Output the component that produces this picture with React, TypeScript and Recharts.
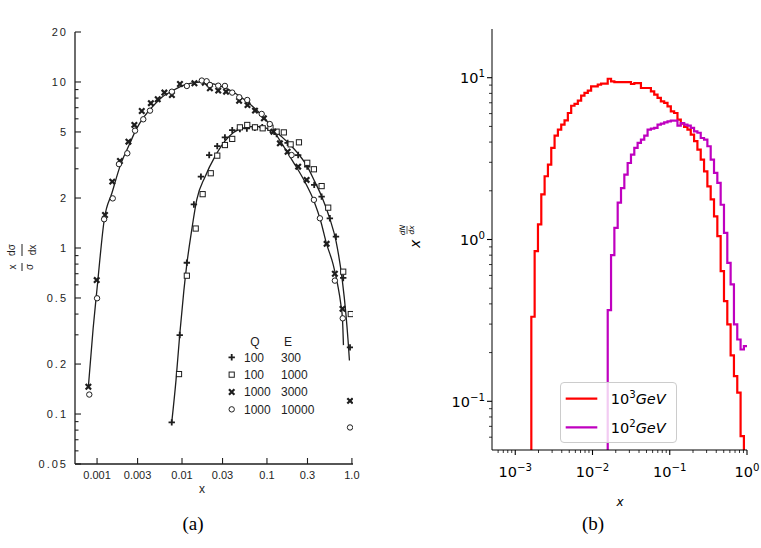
import React from 'react';
import { ComposedChart, Line, Scatter, XAxis, YAxis, Legend } from 'recharts';

/* ---------------- Panel (a) : scanned "coherent branching" plot ---------------- */
const aXTickValues = [0.001, 0.003, 0.01, 0.03, 0.1, 0.3, 1];
const aXTickLabels = ['0.001', '0.003', '0.01', '0.03', '0.1', '0.3', '1.0'];
const aYMajorValues = [0.05, 0.1, 0.2, 0.5, 1, 2, 5, 10, 20];
const aYMajorLabels = ['0.05', '0.1', '0.2', '0.5', '1', '2', '5', '10', '20'];
const aYMinorValues = [0.06, 0.07, 0.08, 0.09, 0.3, 0.4, 0.6, 0.7, 0.8, 0.9, 3, 4, 6, 7, 8, 9];
const aTitle = 'COHERENT BRANCHING';
const aXLabel = 'x';
const aLegendHeader = ['Q', 'E'];
const aLegendRows = [
  { kind: 'plus', q: '100', e: '300' },
  { kind: 'square', q: '100', e: '1000' },
  { kind: 'cross', q: '1000', e: '3000' },
  { kind: 'circle', q: '1000', e: '10000' },
];

// Q=100, E=300
const aPlusPts = [
  [0.00757, 0.089], [0.0094, 0.299], [0.0114, 0.815], [0.0138, 1.83], [0.0167, 2.69], [0.0209, 3.63],
  [0.026, 4.11], [0.032, 4.64], [0.039, 5.13], [0.048, 5.2], [0.058, 5.25], [0.072, 5.3], [0.088, 5.35],
  [0.11, 5.15], [0.13, 4.85], [0.175, 4.3], [0.233, 3.63], [0.298, 3.09], [0.36, 2.4], [0.44, 2.04],
  [0.55, 1.51], [0.649, 1.17], [0.79, 0.66], [0.95, 0.252],
];
// Q=100, E=1000
const aSquarePts = [
  [0.00922, 0.174], [0.0114, 0.681], [0.0145, 1.31], [0.0175, 2.11], [0.0218, 2.82], [0.026, 3.6],
  [0.032, 4.17], [0.039, 4.54], [0.048, 5.33], [0.0586, 5.51], [0.0723, 5.33], [0.089, 5.26], [0.11, 5.3],
  [0.13, 5.02], [0.158, 4.97], [0.19, 4.21], [0.238, 4.33], [0.298, 3.26], [0.357, 2.98], [0.44, 2.36],
  [0.526, 1.75], [0.79, 0.72], [0.97, 0.4],
];
// Q=1000, E=3000
const aCrossPts = [
  [0.00079, 0.146], [0.00099, 0.641], [0.00124, 1.58], [0.00151, 2.51], [0.00186, 3.34], [0.00234, 4.37],
  [0.00275, 5.51], [0.00336, 6.69], [0.0043, 7.45], [0.00518, 7.87], [0.0062, 8.63], [0.0076, 8.35],
  [0.00946, 9.72], [0.014, 9.82], [0.0185, 9.9], [0.0213, 9.17], [0.0267, 8.87], [0.033, 8.74], [0.047, 7.7],
  [0.059, 7.26], [0.0723, 6.72], [0.092, 6.04], [0.119, 5.02], [0.142, 4.27], [0.175, 3.8], [0.233, 3.09],
  [0.293, 2.57], [0.504, 1.06], [0.63, 0.7], [0.775, 0.43], [0.95, 0.12],
];
// Q=1000, E=10000
const aCirclePts = [
  [0.00081, 0.131], [0.001, 0.498], [0.00121, 1.49], [0.00153, 1.99], [0.00181, 3.2], [0.00227, 3.72],
  [0.0028, 5.09], [0.0035, 5.96], [0.0042, 6.72], [0.0076, 8.74], [0.0114, 9.46], [0.0171, 10.2],
  [0.0195, 10.1], [0.0213, 9.6], [0.0267, 9.5], [0.032, 9.47], [0.039, 8.63], [0.0472, 8.09], [0.0586, 7.79],
  [0.0867, 6.42], [0.108, 5.58], [0.195, 3.63], [0.357, 1.95], [0.42, 1.51], [0.63, 0.636], [0.78, 0.377],
  [0.95, 0.083],
];
// fitted curves
const aCurveQ1000 = [
  [0.00079, 0.146], [0.0009, 0.33], [0.001, 0.57], [0.00122, 1.5], [0.0015, 2.15], [0.0019, 3.2],
  [0.0024, 4.2], [0.0029, 5.2], [0.0036, 6.2], [0.0045, 7.1], [0.0058, 8.1], [0.0076, 8.8], [0.0098, 9.45],
  [0.0125, 9.8], [0.017, 10.0], [0.022, 9.8], [0.03, 9.35], [0.04, 8.7], [0.055, 7.8], [0.075, 6.8],
  [0.1, 5.8], [0.14, 4.5], [0.2, 3.35], [0.28, 2.5], [0.36, 1.9], [0.43, 1.45], [0.5, 1.07], [0.6, 0.8],
  [0.68, 0.6], [0.74, 0.46], [0.775, 0.37], [0.795, 0.26],
];
const aCurveQ100 = [
  [0.00757, 0.089], [0.0085, 0.16], [0.0094, 0.3], [0.0105, 0.55], [0.0114, 0.8], [0.013, 1.28],
  [0.0149, 1.95], [0.0187, 2.69], [0.0244, 3.55], [0.032, 4.4], [0.04, 4.95], [0.055, 5.3], [0.075, 5.4],
  [0.1, 5.25], [0.13, 4.95], [0.186, 4.2], [0.233, 3.7], [0.298, 3.1], [0.36, 2.55], [0.44, 2.05],
  [0.55, 1.5], [0.65, 1.1], [0.77, 0.64], [0.85, 0.4], [0.9, 0.28], [0.935, 0.21],
];

/* ---------------- Panel (b) : g spectrum histograms ---------------- */
const bTitleMath = 'g';
const bTitleText = ' spectrum';
const bXLabel = 'x';
const bXMajor = [0.001, 0.01, 0.1, 1];
const bXMajorExp = ['\u22123', '\u22122', '\u22121', '0'];
const bXMinor = [
  0.0006, 0.0007, 0.0008, 0.0009, 0.002, 0.003, 0.004, 0.005, 0.006, 0.007, 0.008, 0.009,
  0.02, 0.03, 0.04, 0.05, 0.06, 0.07, 0.08, 0.09, 0.2, 0.3, 0.4, 0.5, 0.6, 0.7, 0.8, 0.9,
];
const bYMajor = [0.1, 1, 10];
const bYMajorExp = ['\u22121', '0', '1'];
const bYMinor = [0.06, 0.07, 0.08, 0.09, 0.2, 0.3, 0.4, 0.5, 0.6, 0.7, 0.8, 0.9, 2, 3, 4, 5, 6, 7, 8, 9];
const bFloor = 0.05;

// histogram bin edges (log-spaced, read from the step positions)
const bBinEdges = [
  0.0016144, 0.0017824, 0.0019679, 0.0021727, 0.0023988, 0.0026485, 0.0029242, 0.0032285, 0.0035645,
  0.0039355, 0.0043451, 0.0047973, 0.0052966, 0.0058479, 0.0064565, 0.0071285, 0.0078705, 0.0086896,
  0.009594, 0.010593, 0.011695, 0.012912, 0.014256, 0.01574, 0.017378, 0.019187, 0.021184, 0.023388,
  0.025823, 0.02851, 0.031477, 0.034754, 0.038371, 0.042364, 0.046774, 0.051642, 0.057016, 0.062951,
  0.069502, 0.076736, 0.084723, 0.093541, 0.10328, 0.11402, 0.12589, 0.139, 0.15346, 0.16943, 0.18707,
  0.20654, 0.22803, 0.25177, 0.27797, 0.3069, 0.33884, 0.37411, 0.41305, 0.45604, 0.5035, 0.5559,
  0.61376, 0.67764, 0.74817, 0.82604, 0.91201, 1.0069,
];
// 10^3 GeV (red), bins 0..63
const bRedValues = [
  0.333, 0.847, 1.24, 1.9, 2.46, 2.9, 3.68, 4.38, 4.78, 5.13, 5.45, 6.05, 6.71, 6.9, 7.21, 7.74, 8.05,
  8.32, 8.84, 8.84, 9.05, 9.2, 9.2, 9.85, 9.49, 9.4, 9.4, 9.4, 9.4, 9.4, 9.14, 9.27, 9.27, 8.64, 8.64,
  8.64, 8.23, 7.85, 7.5, 7.14, 6.98, 6.65, 6.19, 6.05, 5.51, 5.2, 4.97, 4.78, 4.45, 4.05, 3.59, 3.12,
  2.64, 2.13, 1.77, 1.39, 1.05, 0.637, 0.416, 0.299, 0.192, 0.143, 0.113, 0.061,
];
const bRedStartBin = 0;
// 10^2 GeV (magenta), bins 23..64
const bPurpleValues = [
  0.366, 0.8, 1.18, 1.69, 2.08, 2.52, 2.97, 3.35, 3.68, 3.95, 4.14, 4.38, 4.78, 4.85, 4.89, 5.13, 5.2,
  5.3, 5.37, 5.43, 5.43, 5.05, 5.25, 5.13, 5.05, 4.89, 4.66, 4.57, 4.24, 4.14, 3.77, 3.12, 2.58, 2.24,
  1.64, 1.1, 0.718, 0.528, 0.299, 0.241, 0.209, 0.219,
];
const bPurpleStartBin = 23;
const bSeries = [
  { key: 'red', base: '10', exp: '3', unit: 'GeV', color: '#ff0000' },
  { key: 'purple', base: '10', exp: '2', unit: 'GeV', color: '#bf00bf' },
];
const captions = ['(a)', '(b)'];

/* ---------------- helpers ---------------- */
const toPts = (arr: number[][]) => arr.map(([x, y]) => ({ x, y }));

function stepSeries(edges: number[], start: number, vals: number[], floor: number, endX?: number) {
  const pts: { x: number; y: number }[] = [{ x: edges[start], y: floor }];
  vals.forEach((v, i) => pts.push({ x: edges[start + i], y: v }));
  const last = vals[vals.length - 1];
  const xEnd = endX !== undefined ? endX : edges[start + vals.length];
  pts.push({ x: xEnd, y: last });
  if (endX === undefined) pts.push({ x: xEnd, y: floor });
  return pts;
}

const INK = '#1e1e1e';
const A_FONT = '"Liberation Sans", Arial, sans-serif';
const B_FONT = '"DejaVu Sans", sans-serif';

/* markers */
const PlusShape = (p: any) => (
  <path d={`M${p.cx - 3.2},${p.cy}h6.4M${p.cx},${p.cy - 3.2}v6.4`} stroke={INK} strokeWidth={1.8} fill="none" />
);
const SquareShape = (p: any) => (
  <rect x={p.cx - 2.6} y={p.cy - 2.6} width={5.2} height={5.2} fill="#fff" stroke={INK} strokeWidth={1} />
);
const CrossShape = (p: any) => (
  <path
    d={`M${p.cx - 2.7},${p.cy - 2.7}L${p.cx + 2.7},${p.cy + 2.7}M${p.cx + 2.7},${p.cy - 2.7}L${p.cx - 2.7},${p.cy + 2.7}`}
    stroke={INK}
    strokeWidth={2.2}
    fill="none"
  />
);
const CircleShape = (p: any) => <circle cx={p.cx} cy={p.cy} r={2.7} fill="#fff" stroke={INK} strokeWidth={1} />;
const markerFor: Record<string, any> = { plus: PlusShape, square: SquareShape, cross: CrossShape, circle: CircleShape };

/* panel (a) ticks */
const ATickBottom = (p: any) => {
  const i = aXTickValues.indexOf(p.payload.value);
  return (
    <g>
      <line x1={p.x} x2={p.x} y1={p.y} y2={p.y - 6} stroke={INK} strokeWidth={1.1} />
      <text x={p.x} y={p.y + 15} textAnchor="middle" fontFamily={A_FONT} fontSize={11} fill={INK}>
        {aXTickLabels[i]}
      </text>
    </g>
  );
};
const ATickTop = (p: any) => (
  <line x1={p.x} x2={p.x} y1={p.y} y2={p.y + 6} stroke={INK} strokeWidth={1.1} />
);
const ATickLeft = (p: any) => {
  const i = aYMajorValues.indexOf(p.payload.value);
  const major = i >= 0;
  return (
    <g>
      <line x1={p.x} x2={p.x + (major ? 6 : 3.5)} y1={p.y} y2={p.y} stroke={INK} strokeWidth={1.1} />
      {major && (
        <text x={p.x - 7} y={p.y} dy="0.36em" textAnchor="end" fontFamily={A_FONT} fontSize={11} letterSpacing={2} fill={INK}>
          {aYMajorLabels[i]}
        </text>
      )}
    </g>
  );
};
const ATickRight = (p: any) => {
  const major = aYMajorValues.indexOf(p.payload.value) >= 0;
  return <line x1={p.x} x2={p.x - (major ? 6 : 3.5)} y1={p.y} y2={p.y} stroke={INK} strokeWidth={1.1} />;
};
const ATitle = () => (
  <text x={198} y={54} textAnchor="middle" fontFamily={A_FONT} fontSize={10.5} letterSpacing={0.3} fill={INK}>
    {aTitle}
  </text>
);
const AXLabel = () => (
  <text x={202} y={493} textAnchor="middle" fontFamily={A_FONT} fontSize={12} fill={INK}>
    {aXLabel}
  </text>
);
const AYLabel = () => (
  <g transform="translate(22,256) rotate(-90)" fontFamily={A_FONT} fontSize={10} fill={INK}>
    <text x={-11} y={-6} textAnchor="middle">x</text>
    <line x1={-15} x2={-7} y1={0} y2={0} stroke={INK} strokeWidth={1} />
    <text x={-11} y={11} textAnchor="middle">σ</text>
    <text x={6} y={-7} textAnchor="middle">dσ</text>
    <line x1={0} x2={12} y1={0} y2={0} stroke={INK} strokeWidth={1} />
    <text x={6} y={14} textAnchor="middle">dx</text>
  </g>
);
const ALegend = () => (
  <svg width={110} height={90} style={{ display: 'block' }}>
    <g fontFamily={A_FONT} fontSize={12} fill={INK}>
      <text x={33} y={14} textAnchor="middle">{aLegendHeader[0]}</text>
      <text x={66} y={14} textAnchor="middle">{aLegendHeader[1]}</text>
      {aLegendRows.map((r, i) => {
        const cy = 25.3 + i * 17.35;
        const M = markerFor[r.kind];
        return (
          <g key={r.kind}>
            <M cx={9.7} cy={cy} />
            <text x={22} y={cy + 4.3}>{r.q}</text>
            <text x={59} y={cy + 4.3}>{r.e}</text>
          </g>
        );
      })}
    </g>
  </svg>
);

/* panel (b) ticks */
const BTickX = (p: any) => {
  const v = p.payload.value;
  const i = bXMajor.indexOf(v);
  const major = i >= 0;
  return (
    <g>
      <line x1={p.x} x2={p.x} y1={p.y} y2={p.y + (major ? 5 : 3)} stroke="#000" strokeWidth={major ? 1.1 : 0.8} />
      {major && (
        <text x={p.x} y={p.y + 27} textAnchor="middle" fontFamily={B_FONT} fontSize={14.5} fill="#000">
          <tspan>10</tspan>
          <tspan dy={-6} fontSize={10.2}>{bXMajorExp[i]}</tspan>
        </text>
      )}
    </g>
  );
};
const BTickY = (p: any) => {
  const v = p.payload.value;
  const i = bYMajor.indexOf(v);
  const major = i >= 0;
  return (
    <g>
      <line x1={p.x} x2={p.x - (major ? 5 : 3)} y1={p.y} y2={p.y} stroke="#000" strokeWidth={major ? 1.1 : 0.8} />
      {major && (
        <text x={p.x - 7} y={p.y + 5.3} textAnchor="end" fontFamily={B_FONT} fontSize={14.5} fill="#000">
          <tspan>10</tspan>
          <tspan dy={-6} fontSize={10.2}>{bYMajorExp[i]}</tspan>
        </text>
      )}
    </g>
  );
};
const BTitle = () => (
  <text x={239} y={20} textAnchor="middle" fontFamily={B_FONT} fontSize={17.5} fill="#000">
    <tspan fontStyle="italic">{bTitleMath}</tspan>
    <tspan>{bTitleText}</tspan>
  </text>
);
const BXLabel = () => (
  <text x={240} y={506} textAnchor="middle" fontFamily={B_FONT} fontSize={12} fontStyle="italic" fill="#000">
    {bXLabel}
  </text>
);
const BYLabel = () => (
  <g transform="translate(27,240) rotate(-90)" fontFamily={B_FONT} fill="#000">
    <text x={-8} y={13} fontSize={14} fontStyle="italic">x</text>
    <text x={10} y={-2} fontSize={7.5} fontStyle="italic" textAnchor="middle">dN</text>
    <line x1={6} x2={14} y1={0} y2={0} stroke="#000" strokeWidth={0.6} />
    <text x={10} y={7} fontSize={7.5} fontStyle="italic" textAnchor="middle">dx</text>
  </g>
);
const BLegend = () => (
  <div
    style={{
      position: 'relative',
      width: 117,
      height: 61,
      boxSizing: 'border-box',
      border: '1px solid #cccccc',
      borderRadius: 4,
      background: 'rgba(255,255,255,0.8)',
    }}
  >
    <svg width={117} height={61} style={{ position: 'absolute', left: -1, top: -1 }}>
      {bSeries.map((s, i) => {
        const cy = 16.7 + i * 28.7;
        return (
          <g key={s.key}>
            <line x1={5.7} x2={37.3} y1={cy} y2={cy} stroke={s.color} strokeWidth={2.2} />
            <text x={50.7} y={cy + 5.3} fontFamily={B_FONT} fontSize={14.5} fill="#000">
              <tspan>{s.base}</tspan>
              <tspan dy={-6} fontSize={10.2}>{s.exp}</tspan>
              <tspan dy={6} fontStyle="italic">{s.unit}</tspan>
            </text>
          </g>
        );
      })}
    </svg>
  </div>
);

const aYAllTicks = [...aYMajorValues, ...aYMinorValues];
const bXAllTicks = [...bXMajor, ...bXMinor];
const bYAllTicks = [...bYMajor, ...bYMinor];

export default function App() {
  const redPts = stepSeries(bBinEdges, bRedStartBin, bRedValues, bFloor);
  const purplePts = stepSeries(bBinEdges, bPurpleStartBin, bPurpleValues, bFloor, 1);

  return (
    <div style={{ position: 'absolute', left: 0, top: 0, width: 761, height: 548, background: '#fff', overflow: 'hidden' }}>
      {/* panel (a) */}
      <div style={{ position: 'absolute', left: 0, top: 0 }}>
        <ComposedChart width={370} height={500} margin={{ top: 32, right: 17, left: 0, bottom: 0 }}>
          <XAxis
            xAxisId="b"
            type="number"
            dataKey="x"
            scale="log"
            domain={[0.00055, 1.03]}
            allowDataOverflow
            ticks={aXTickValues}
            interval={0}
            tickSize={0}
            tickMargin={0}
            tickLine={false}
            tick={<ATickBottom />}
            axisLine={{ stroke: INK, strokeWidth: 1.3 }}
            height={36}
            label={<AXLabel />}
          />
          <XAxis
            xAxisId="t"
            orientation="top"
            type="number"
            dataKey="x"
            scale="log"
            domain={[0.00055, 1.03]}
            allowDataOverflow
            ticks={aXTickValues}
            interval={0}
            tickSize={0}
            tickMargin={0}
            tickLine={false}
            tick={<ATickTop />}
            axisLine={{ stroke: INK, strokeWidth: 1.3 }}
            height={0}
            label={<ATitle />}
          />
          <YAxis
            yAxisId="l"
            type="number"
            dataKey="y"
            scale="log"
            domain={[0.05, 20]}
            allowDataOverflow
            ticks={aYAllTicks}
            interval={0}
            tickSize={0}
            tickMargin={0}
            tickLine={false}
            tick={<ATickLeft />}
            axisLine={{ stroke: INK, strokeWidth: 1.3 }}
            width={75}
            label={<AYLabel />}
          />
          <YAxis
            yAxisId="r"
            orientation="right"
            type="number"
            dataKey="y"
            scale="log"
            domain={[0.05, 20]}
            allowDataOverflow
            ticks={aYAllTicks}
            interval={0}
            tickSize={0}
            tickMargin={0}
            tickLine={false}
            tick={<ATickRight />}
            axisLine={{ stroke: INK, strokeWidth: 1.3 }}
            width={0}
          />
          <Line xAxisId="b" yAxisId="l" data={toPts(aCurveQ1000)} dataKey="y" type="monotone" stroke={INK} strokeWidth={1.3} dot={false} isAnimationActive={false} />
          <Line xAxisId="b" yAxisId="l" data={toPts(aCurveQ100)} dataKey="y" type="monotone" stroke={INK} strokeWidth={1.3} dot={false} isAnimationActive={false} />
          <Scatter xAxisId="b" yAxisId="l" data={toPts(aPlusPts)} dataKey="y" shape={PlusShape} isAnimationActive={false} />
          <Scatter xAxisId="b" yAxisId="l" data={toPts(aSquarePts)} dataKey="y" shape={SquareShape} isAnimationActive={false} />
          <Scatter xAxisId="b" yAxisId="l" data={toPts(aCrossPts)} dataKey="y" shape={CrossShape} isAnimationActive={false} />
          <Scatter xAxisId="b" yAxisId="l" data={toPts(aCirclePts)} dataKey="y" shape={CircleShape} isAnimationActive={false} />
          <Legend
            layout="horizontal"
            verticalAlign="middle"
            align="center"
            content={() => <ALegend />}
            wrapperStyle={{ left: 222, top: 332, width: 110, height: 90 }}
          />
        </ComposedChart>
      </div>

      {/* panel (b) */}
      <div style={{ position: 'absolute', left: 380, top: 0 }}>
        <ComposedChart width={381} height={548} margin={{ top: 29, right: 14, left: 0, bottom: 0 }}>
          <XAxis
            type="number"
            dataKey="x"
            scale="log"
            domain={[0.0005, 1]}
            allowDataOverflow
            ticks={bXAllTicks}
            interval={0}
            tickSize={0}
            tickMargin={0}
            tickLine={false}
            tick={<BTickX />}
            axisLine={{ stroke: '#000', strokeWidth: 1 }}
            height={98}
            label={<BXLabel />}
          />
          <XAxis
            xAxisId="t"
            orientation="top"
            type="number"
            dataKey="x"
            scale="log"
            domain={[0.0005, 1]}
            allowDataOverflow
            tick={false}
            tickLine={false}
            axisLine={{ stroke: '#000', strokeWidth: 1 }}
            height={0}
            label={<BTitle />}
          />
          <YAxis
            type="number"
            dataKey="y"
            scale="log"
            domain={[0.05, 20]}
            allowDataOverflow
            ticks={bYAllTicks}
            interval={0}
            tickSize={0}
            tickMargin={0}
            tickLine={false}
            tick={<BTickY />}
            axisLine={{ stroke: '#000', strokeWidth: 1 }}
            width={112}
            label={<BYLabel />}
          />
          <YAxis
            yAxisId="r"
            orientation="right"
            type="number"
            dataKey="y"
            scale="log"
            domain={[0.05, 20]}
            allowDataOverflow
            tick={false}
            tickLine={false}
            axisLine={{ stroke: '#000', strokeWidth: 1 }}
            width={0}
          />
          <Line data={redPts} dataKey="y" type="stepAfter" stroke="#ff0000" strokeWidth={2.2} dot={false} isAnimationActive={false} />
          <Line data={purplePts} dataKey="y" type="stepAfter" stroke="#bf00bf" strokeWidth={2.2} dot={false} isAnimationActive={false} />
          <Legend
            layout="horizontal"
            verticalAlign="middle"
            align="center"
            content={() => <BLegend />}
            wrapperStyle={{ left: 180, top: 382, width: 117, height: 61 }}
          />
        </ComposedChart>
      </div>

      {/* captions */}
      <div style={{ position: 'absolute', left: 153, top: 511, width: 80, textAlign: 'center', fontFamily: '"Liberation Serif", serif', fontSize: 19, lineHeight: '26px' }}>
        {captions[0]}
      </div>
      <div style={{ position: 'absolute', left: 553, top: 511, width: 80, textAlign: 'center', fontFamily: '"Liberation Serif", serif', fontSize: 19, lineHeight: '26px' }}>
        {captions[1]}
      </div>
    </div>
  );
}
